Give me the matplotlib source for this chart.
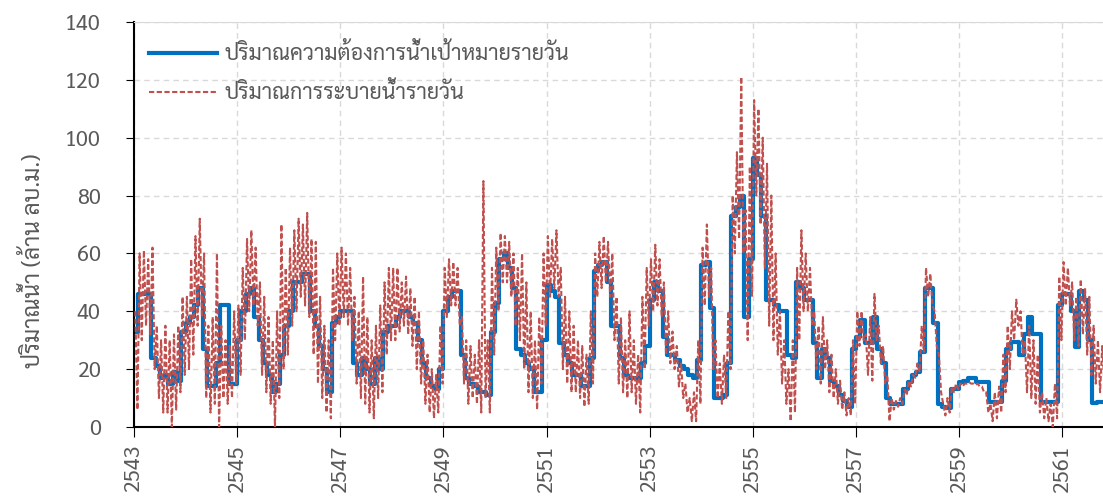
import numpy as np
import matplotlib
matplotlib.use("Agg")
import matplotlib.pyplot as plt
from matplotlib import font_manager
from matplotlib.ft2font import FT2Font

# monthly values, first month = Jan 2543
start_year = 2543

# target daily demand (step, one value per month)
target = [
    33, 46, 46, 46, 24, 21, 17, 18, 15, 19, 16, 33,   # 2543
    36, 38, 42, 48, 27, 14, 14, 22, 42, 42, 15, 15,   # 2544
    30, 40, 46, 48, 38, 30, 22, 18, 12, 15, 25, 35,   # 2545
    40, 50, 50, 53, 53, 40, 35, 28, 20, 12, 36, 38,   # 2546
    40, 40, 40, 22, 18, 24, 20, 15, 24, 20, 33, 35,   # 2547
    35, 38, 40, 40, 38, 36, 30, 22, 17, 14, 13, 20,   # 2548
    40, 45, 47, 47, 25, 17, 15, 14, 12, 12, 11, 33,   # 2549
    43, 58, 60, 55, 48, 27, 25, 22, 20, 12, 12, 30,   # 2550
    49, 47, 45, 29, 25, 22, 18, 18, 14, 14, 24, 54,   # 2551
    56, 57, 50, 35, 35, 24, 18, 17, 17, 17, 22, 28,   # 2552
    44, 50, 47, 31, 25, 25, 23, 21, 20, 18, 17, 23,   # 2553
    56, 57, 41, 10, 10, 11, 22, 73, 76, 80, 38, 58,   # 2554
    93, 87, 73, 44, 44, 42, 40, 40, 25, 24, 50, 48,   # 2555
    44, 44, 29, 17, 27, 24, 16, 14, 11, 9, 7, 27,     # 2556
    31, 37, 29, 29, 38, 27, 22, 10, 8, 8, 8, 13,      # 2557
    15.6, 18, 19, 26, 48, 48, 36, 8, 7, 6.5, 13, 13,  # 2558
    15.6, 16, 17, 17, 15.6, 15.6, 15.6, 8.6, 8.6, 8.6, 16, 27,  # 2559
    29.5, 29.5, 25, 32, 38, 32, 32, 8.6, 8.6, 8.6, 8.6, 42,     # 2560
    46, 46, 40, 27.7, 47, 44, 30, 8.2, 8.6, 8.6,                # 2561
]

# daily release: upper and lower edge of the daily scatter in each month
release_hi = [
    40, 60, 61, 58, 62, 35, 30, 35, 30, 32, 35, 45,
    45, 58, 66, 72, 60, 35, 38, 60, 35, 30, 28, 40,
    42, 55, 65, 68, 62, 50, 45, 38, 30, 40, 70, 55,
    62, 68, 72, 70, 74, 65, 64, 45, 35, 30, 55, 60,
    62, 60, 55, 45, 40, 52, 38, 30, 35, 42, 50, 55,
    55, 55, 50, 52, 48, 45, 40, 30, 25, 20, 18, 35,
    55, 58, 57, 55, 38, 30, 28, 25, 30, 85, 30, 55,
    62, 67, 66, 64, 60, 55, 60, 50, 40, 30, 38, 60,
    66, 65, 68, 55, 45, 40, 35, 30, 28, 25, 40, 60,
    64, 66, 64, 60, 45, 38, 30, 40, 30, 25, 45, 55,
    58, 63, 58, 50, 40, 33, 28, 22, 15, 10, 12, 30,
    62, 70, 55, 30, 22, 25, 40, 80, 95, 121, 75, 90,
    113, 110, 100, 91, 80, 60, 40, 30, 20, 30, 55, 68,
    60, 55, 40, 35, 38, 30, 25, 20, 16, 12, 10, 30,
    40, 40, 32, 38, 46, 35, 28, 18, 10, 9, 10, 13,
    16, 18, 22, 35, 55, 53, 40, 25, 8, 10, 14, 15,
    15, 15, 15.5, 15, 15, 14, 12, 8, 12, 14, 25, 35,
    40, 44, 40, 30, 35, 30, 25, 12, 10, 8, 15, 52,
    57, 55, 50, 45, 51, 48, 45, 35, 30, 28,
]
release_lo = [
    6, 30, 35, 32, 20, 10, 5, 5, 0, 6, 12, 18,
    20, 25, 35, 38, 10, 5, 8, 0, 10, 8, 10, 15,
    18, 30, 40, 42, 35, 18, 12, 8, 0, 10, 20, 25,
    35, 40, 45, 42, 38, 25, 15, 10, 5, 3, 30, 35,
    38, 35, 30, 15, 10, 8, 5, 3, 10, 12, 25, 30,
    30, 33, 35, 32, 28, 20, 15, 8, 5, 3, 5, 15,
    38, 42, 42, 35, 15, 8, 10, 8, 5, 10, 5, 25,
    40, 50, 50, 45, 35, 30, 20, 12, 10, 6, 15, 35,
    45, 48, 45, 20, 15, 12, 12, 10, 7, 8, 15, 45,
    48, 50, 45, 30, 15, 12, 10, 12, 8, 5, 20, 35,
    40, 42, 38, 25, 22, 20, 14, 10, 5, 2, 2, 8,
    42, 45, 20, 10, 8, 10, 20, 60, 65, 60, 30, 45,
    80, 70, 55, 35, 30, 25, 15, 8, 2, 5, 30, 40,
    40, 35, 20, 15, 20, 12, 10, 8, 6, 4, 4, 8,
    28, 30, 18, 16, 30, 22, 15, 2, 6, 7, 8, 11,
    14, 17, 19, 26, 45, 42, 28, 12, 4, 5, 12, 13,
    14, 15, 15, 14.5, 14, 12, 5, 2, 3, 5, 12, 20,
    30, 35, 25, 12, 10, 8, 5, 3, 2, 0, 3, 30,
    42, 42, 30, 28, 32, 25, 18, 15, 12, 15,
]

year_ticks = [2543, 2545, 2547, 2549, 2551, 2553, 2555, 2557, 2559, 2561]
y_ticks = [0, 20, 40, 60, 80, 100, 120, 140]

label_target = "ปริมาณความต้องการน้ำเป้าหมายรายวัน"
label_release = "ปริมาณการระบายน้ำรายวัน"
y_label = "ปริมาณน้ำ (ล้าน ลบ.ม.)"


def thai_font():
    # installed families with Thai glyphs, Sarabun-like ones first
    found = []
    for f in font_manager.fontManager.ttflist:
        try:
            if 0x0E1B in FT2Font(f.fname).get_charmap():
                found.append(f.name)
        except Exception:
            pass
    for name in ["TH Sarabun New", "TH SarabunPSK", "Sarabun", "Laksaman",
                 "Noto Sans Thai", "Noto Sans Thai UI", "Loma", "Garuda"]:
        if name in found:
            return name
    return found[0] if found else "DejaVu Sans"


th_font = thai_font()
plt.rcParams["font.family"] = [th_font, "DejaVu Sans"]

grey = "#595959"
blue = "#0070C0"
red = "#C0504D"

# step line on month edges
n = len(target)
t_edges = start_year + np.arange(n + 1) / 12
target_step = list(target) + [target[-1]]

# release: high then low inside every month
months = np.arange(len(release_hi))
t_rel = np.empty(2 * len(months))
t_rel[0::2] = start_year + (months + 0.3) / 12
t_rel[1::2] = start_year + (months + 0.8) / 12
v_rel = np.empty(2 * len(months))
v_rel[0::2] = release_hi
v_rel[1::2] = release_lo

fig = plt.figure(figsize=(11.03, 4.99), dpi=100)
ax = fig.add_axes([0.1215, 0.1443, 0.8785, 0.8117])

ax.step(t_edges, target_step, where="post", color=blue, lw=3, label=label_target, zorder=2)
ax.plot(t_rel, v_rel, color=red, lw=1.5, ls=(0, (2.5, 1.2)), label=label_release, zorder=3)

ax.set_xlim(start_year, 2561.79)
ax.set_ylim(0, 140)
ax.set_xticks(year_ticks)
ax.set_xticklabels([str(y) for y in year_ticks], rotation=90)
ax.set_yticks(y_ticks)
ax.tick_params(axis="both", colors="black", labelcolor=grey, labelsize=15.5, direction="out")
ax.tick_params(axis="x", length=7, pad=6)
ax.tick_params(axis="y", length=6, pad=18)

ax.grid(True, color="#D9D9D9", ls=(0, (4, 3)), lw=1)
ax.set_axisbelow(True)
ax.spines["right"].set_visible(False)
ax.spines["top"].set_color("#D9D9D9")
ax.spines["left"].set_color("black")
ax.spines["bottom"].set_color("black")
ax.spines["left"].set_linewidth(1.5)
ax.spines["bottom"].set_linewidth(1.5)

ax.set_ylabel(y_label, color=grey, fontsize=16.5)
ax.yaxis.set_label_coords(-0.092, 0.41)

leg = ax.legend(loc="upper left", bbox_to_anchor=(0.0, 0.985), frameon=False, fontsize=15.5,
                handlelength=3.15, handletextpad=0.35, labelspacing=0.8,
                labelcolor=grey, borderaxespad=0.3)

fig.savefig("out.png", dpi=100)
